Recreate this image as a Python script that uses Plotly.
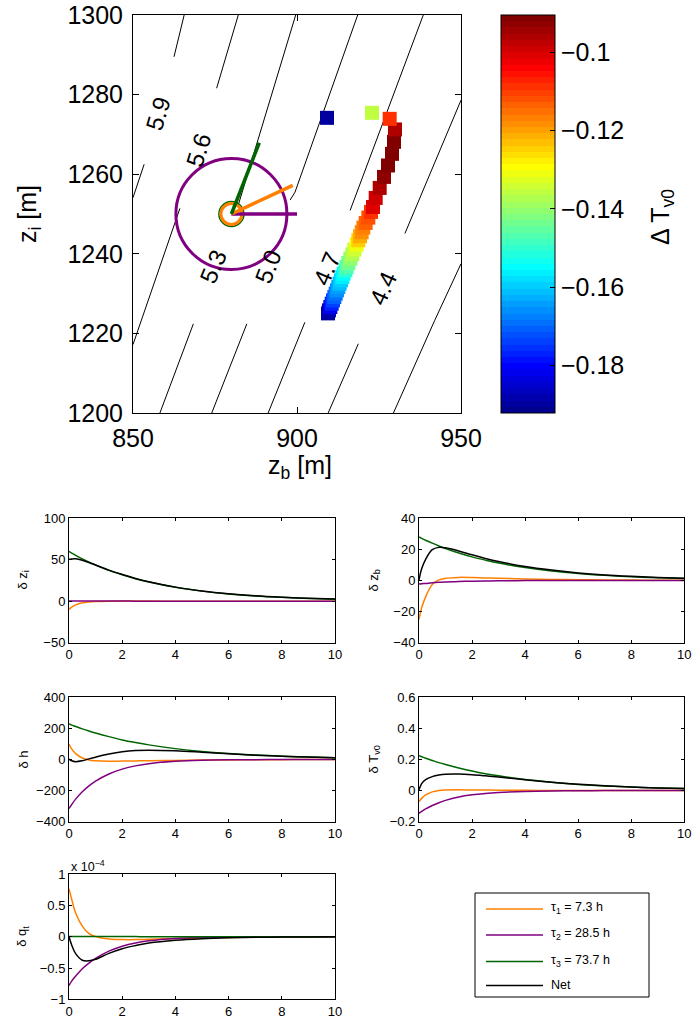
import plotly.graph_objects as go

W, H = 693, 1022

# ====================== DATA ======================
# --- top panel: background contour lines (z_b [m], z_i [m]); None = inline-label gap
cont_zb = [
    [865.6, 862.5, None, 853.4, 850.0],
    [882.1, 875.5, None, 864.3, 858.9, 850.0],
    [899.6, 891.8, 887.7, 882.0, None, 868.4, 858.2],
    [918.5, 909.0, 899.4, 897.9, None, 884.7, 874.0],
    [938.5, 927.3, 916.2, None, 902.4, 899.4, 891.2],
    [950.0, 935.5, 932.9, None, 918.7, 909.5],
    [950.0, 942.0, 929.4],
]
cont_zi = [
    [1300, 1289.5, None, 1262.5, 1254.1],
    [1300, 1281.6, None, 1251.4, 1238.4, 1217.2],
    [1300, 1278.6, 1267.7, 1252.0, None, 1222.4, 1200],
    [1300, 1277.8, 1255.5, 1253.5, None, 1222.4, 1200],
    [1300, 1275.3, 1250.9, None, 1222.8, 1216.6, 1200],
    [1278.6, 1250.6, 1245.1, None, 1217.4, 1200],
    [1237.5, 1223.3, 1200],
]
clab_text = ["5.9", "5.6", "5.3", "5.0", "4.7", "4.4"]
clab_zb = [857.6, 869.9, 874.5, 891.3, 909.1, 926.3]
clab_zi = [1275.3, 1266.0, 1236.7, 1236.7, 1236.3, 1231.2]

# trajectory squares coloured by Delta T_v0
traj_zb = [909.45, 909.76, 910.16, 910.57, 910.98, 911.38, 911.79, 912.20, 912.60, 913.01,
           913.41, 913.82, 914.23, 914.74, 915.14, 915.65, 916.26, 916.87, 917.48, 918.19,
           918.70, 919.21, 919.72, 920.22, 920.93, 921.75, 922.56, 923.17, 923.99, 925.21,
           926.52, 927.74, 928.96, 929.57, 929.88, 928.26, 922.87, 909.15]
traj_zi = [1225.03, 1225.79, 1226.62, 1227.46, 1228.30, 1229.14, 1229.98, 1230.82, 1231.66, 1232.50,
           1233.33, 1234.17, 1235.01, 1235.85, 1236.69, 1237.69, 1238.78, 1239.87, 1241.05, 1242.31,
           1243.40, 1244.40, 1245.41, 1246.58, 1247.76, 1249.10, 1250.52, 1251.77, 1254.04, 1256.55,
           1259.32, 1262.19, 1265.11, 1268.13, 1271.25, 1273.91, 1275.42, 1274.16]
traj_dT = [-0.1904, -0.1887, -0.1824, -0.1777, -0.1745, -0.1712, -0.1688, -0.1664, -0.1640, -0.1617,
           -0.1593, -0.1569, -0.1545, -0.1506, -0.1474, -0.1442, -0.1410, -0.1377, -0.1346, -0.1305,
           -0.1251, -0.1219, -0.1187, -0.1163, -0.1140, -0.1115, -0.1092, -0.1012, -0.0989, -0.0957,
           -0.0924, -0.0908, -0.0900, -0.0900, -0.0964, -0.1086, -0.1362, -0.1904]
dT_min, dT_max = -0.1922, -0.0904

# eigen-mode sticks (tau1, tau2, tau3) from the base state
base_zb, base_zi = 880.0, 1250.0
stick_zb = [898.7, 900.0, 888.5]
stick_zi = [1257.2, 1250.0, 1267.9]

# --- lower panels: perturbations vs time
t = [0, 0.1, 0.25, 0.5, 0.75, 1, 1.5, 2, 2.5, 3, 4, 5, 6, 7, 8, 9, 10]
mode_names = ["τ<sub>1</sub> = 7.3 h", "τ<sub>2</sub> = 28.5 h", "τ<sub>3</sub> = 73.7 h", "Net"]

zi_m1 = [-10, -7.2, -4.4, -1.9, -0.8, -0.3, 0.1, 0.2, 0.2, 0.2, 0.1, 0.1, 0.1, 0, 0, 0, 0]
zi_m2 = [0.3, 0.3, 0.3, 0.3, 0.3, 0.3, 0.2, 0.2, 0.1, 0.1, 0.1, 0, 0, 0, 0, 0, 0]
zi_m3 = [60, 58.1, 55.4, 51.1, 47.2, 43.6, 37.2, 31.9, 27.2, 23.2, 16.8, 12.2, 8.8, 6.4, 4.7, 3.4, 2.5]
zi_net = [50.5, 51.0, 51.2, 49.5, 46.7, 43.6, 37.5, 32.3, 27.5, 23.5, 17.0, 12.3, 8.9, 6.5, 4.8, 3.5, 2.6]

zb_m1 = [-25, -17.5, -10.5, -2.5, 0.4, 1.4, 2.0, 1.9, 1.6, 1.4, 1.0, 0.7, 0.5, 0.35, 0.25, 0.15, 0.1]
zb_m2 = [-2.3, -2.1, -1.9, -1.5, -1.2, -1.0, -0.65, -0.43, -0.28, -0.18, -0.08, -0.03, 0, 0, 0, 0, 0]
zb_m3 = [28, 27.1, 25.9, 24.0, 22.2, 20.6, 17.7, 15.2, 13.1, 11.2, 8.3, 6.1, 4.5, 3.3, 2.4, 1.8, 1.3]
zb_net = [0.4, 7.5, 13.6, 19.8, 21.3, 21.0, 19.0, 16.5, 14.2, 12.2, 9.0, 6.7, 4.9, 3.6, 2.7, 2.0, 1.5]

h_m1 = [100, 68, 38, 10, -3, -8, -11, -10, -9, -8, -6, -4, -2.5, -1.6, -1, -0.6, -0.4]
h_m2 = [-315, -290, -255, -208, -170, -139, -93, -62, -41, -27, -12, -5, -2.2, -1, -0.4, -0.2, -0.1]
h_m3 = [228, 221, 212, 197, 183, 170, 147, 126, 109, 94, 70, 52, 39, 29, 21.6, 16, 12]
h_net = [3, -8, -14, -8, 4, 15, 35, 50, 58, 60, 56, 47, 37, 28, 21, 15.5, 11.5]

T_m1 = [-0.071, -0.05, -0.028, -0.008, 0.001, 0.004, 0.005, 0.004, 0.004, 0.003, 0.002, 0.001, 0.001, 0, 0, 0, 0]
T_m2 = [-0.146, -0.134, -0.118, -0.096, -0.078, -0.063, -0.041, -0.027, -0.018, -0.012, -0.005, -0.002, -0.001, 0, 0, 0, 0]
T_m3 = [0.224, 0.218, 0.208, 0.194, 0.18, 0.168, 0.146, 0.126, 0.109, 0.095, 0.071, 0.054, 0.040, 0.030, 0.023, 0.017, 0.013]
T_net = [0.005, 0.045, 0.07, 0.09, 0.1, 0.105, 0.106, 0.102, 0.095, 0.087, 0.07, 0.054, 0.041, 0.031, 0.023, 0.017, 0.013]

# delta q_t in units of 1e-4
q_m1 = [0.77, 0.6, 0.38, 0.17, 0.05, 0.005, -0.035, -0.045, -0.045, -0.04, -0.028, -0.018, -0.011, -0.007, -0.004, -0.002, -0.001]
q_m2 = [-0.78, -0.71, -0.63, -0.51, -0.42, -0.345, -0.23, -0.15, -0.098, -0.065, -0.028, -0.012, -0.005, -0.002, -0.001, 0, 0]
q_m3 = [0.004, 0.004, 0.004, 0.004, 0.004, 0.004, 0.003, 0.003, 0.003, 0.002, 0.002, 0.001, 0.001, 0.001, 0, 0, 0]
q_net = [0, -0.13, -0.27, -0.375, -0.385, -0.36, -0.265, -0.19, -0.14, -0.10, -0.055, -0.03, -0.016, -0.009, -0.005, -0.002, -0.001]

panels = [
    ("δ z<sub>i</sub>", [zi_m1, zi_m2, zi_m3, zi_net], [-50, 100], [-50, 0, 50, 100]),
    ("δ z<sub>b</sub>", [zb_m1, zb_m2, zb_m3, zb_net], [-40, 40], [-40, -20, 0, 20, 40]),
    ("δ h", [h_m1, h_m2, h_m3, h_net], [-400, 400], [-400, -200, 0, 200, 400]),
    ("δ T<sub>v0</sub>", [T_m1, T_m2, T_m3, T_net], [-0.2, 0.6], [-0.2, 0, 0.2, 0.4, 0.6]),
    ("δ q<sub>t</sub>", [q_m1, q_m2, q_m3, q_net], [-1, 1], [-1, -0.5, 0, 0.5, 1]),
]

# ====================== STYLE / LAYOUT ======================
ORANGE, PURPLE, GREEN, BLACK = "rgb(255,128,0)", "rgb(128,0,128)", "rgb(0,100,0)", "black"
mode_colors = [ORANGE, PURPLE, GREEN, BLACK]
FONT = "Liberation Sans, Arial, Helvetica, sans-serif"


def jet(x):
    c = lambda v: max(0.0, min(1.0, v))
    r, g, b = c(1.5 - abs(4 * x - 3)), c(1.5 - abs(4 * x - 2)), c(1.5 - abs(4 * x - 1))
    return "rgb(%d,%d,%d)" % (round(255 * r), round(255 * g), round(255 * b))


jet64 = []
for k in range(64):
    col = jet((k + 1) / 64)
    jet64.append([k / 64, col])
    jet64.append([(k + 1) / 64, col])


def dx(a, b):
    return [a / W, b / W]


def dy(top, bottom):
    return [1 - bottom / H, 1 - top / H]


def paper_text(xp, yp, text, size, angle=0, xanchor="center", yanchor="middle"):
    return dict(x=xp / W, y=1 - yp / H, xref="paper", yref="paper", text=text, showarrow=False,
                textangle=angle, xanchor=xanchor, yanchor=yanchor,
                font=dict(size=size, family=FONT, color="black"))


fig = go.Figure()

# ---- top panel
for xs, ys in zip(cont_zb, cont_zi):
    fig.add_trace(go.Scatter(x=xs, y=ys, mode="lines", line=dict(color="black", width=1),
                             connectgaps=False, hoverinfo="skip", xaxis="x", yaxis="y"))

# circles at base state
fig.add_trace(go.Scatter(x=[base_zb], y=[base_zi], mode="markers", xaxis="x", yaxis="y",
                         marker=dict(symbol="circle-open", size=111, color=PURPLE, line=dict(width=3, color=PURPLE))))
fig.add_trace(go.Scatter(x=[base_zb], y=[base_zi], mode="markers", xaxis="x", yaxis="y",
                         marker=dict(symbol="circle-open", size=25, color=GREEN, line=dict(width=1.5, color=GREEN))))
fig.add_trace(go.Scatter(x=[base_zb], y=[base_zi], mode="markers", xaxis="x", yaxis="y",
                         marker=dict(symbol="circle-open", size=21, color=ORANGE, line=dict(width=3, color=ORANGE))))
for ex, ey, col in zip([stick_zb[1], stick_zb[0], stick_zb[2]], [stick_zi[1], stick_zi[0], stick_zi[2]],
                       [PURPLE, ORANGE, GREEN]):
    fig.add_trace(go.Scatter(x=[base_zb, ex], y=[base_zi, ey], mode="lines", xaxis="x", yaxis="y",
                             line=dict(color=col, width=3.5)))

# trajectory squares
fig.add_trace(go.Scatter(
    x=traj_zb, y=traj_zi, mode="markers", xaxis="x", yaxis="y",
    marker=dict(symbol="square", size=14, color=traj_dT, colorscale=jet64, cmin=dT_min, cmax=dT_max,
                line=dict(width=0),
                colorbar=dict(x=501 / W, xanchor="left", y=1 - 15 / H, yanchor="top",
                              len=(413 - 15) / H, lenmode="fraction", thickness=54, thicknessmode="pixels",
                              xpad=0, ypad=0, outlinewidth=1, outlinecolor="black",
                              tickvals=[-0.18, -0.16, -0.14, -0.12, -0.1],
                              ticktext=["−0.18", "−0.16", "−0.14", "−0.12", "−0.1"],
                              ticks="inside", ticklen=5, tickcolor="black",
                              tickfont=dict(size=25, family=FONT, color="black"))),
))

angles = [-74, -73, -67, -69, -67, -66]
annotations = []
for txt, x, y, a in zip(clab_text, clab_zb, clab_zi, angles):
    annotations.append(dict(x=x, y=y, xref="x", yref="y", text=txt, showarrow=False, textangle=a,
                            xanchor="center", yanchor="middle",
                            font=dict(size=24, family=FONT, color="black")))

# ---- lower panels
pos = [  # (x-left, x-right, y-top, y-bottom) in px
    (69, 335, 518.3, 642.7), (419, 684.3, 518.3, 642.7),
    (69, 335, 697.3, 821.7), (419, 684.3, 697.3, 821.7),
    (69, 335, 874.3, 999.3),
]
axis_common = dict(showline=True, linecolor="black", linewidth=1, mirror="ticks", ticks="inside",
                   ticklen=3, tickcolor="black", showgrid=False, zeroline=False, automargin=False,
                   tickfont=dict(size=13, family=FONT, color="black"))
layout_axes = {}
for i, ((label, series, yr, yt), (xl, xr, yt_px, yb_px)) in enumerate(zip(panels, pos)):
    n = i + 2
    xa, ya = "x%d" % n, "y%d" % n
    for s, col in zip(series, mode_colors):
        fig.add_trace(go.Scatter(x=t, y=s, mode="lines", line=dict(color=col, width=1.5, shape="spline"),
                                 xaxis=xa, yaxis=ya))
    layout_axes["xaxis%d" % n] = dict(domain=dx(xl, xr), range=[0, 10], tickvals=[0, 2, 4, 6, 8, 10],
                                      anchor=ya, **axis_common)
    layout_axes["yaxis%d" % n] = dict(domain=dy(yt_px, yb_px), range=yr, tickvals=yt, anchor=xa,
                                      **axis_common)
    lab_x = 23 if xl < 200 else 374
    annotations.append(paper_text(lab_x, (yt_px + yb_px) / 2, label, 13, angle=-90))

annotations.append(paper_text(69, 866, "x 10<sup>−4</sup>", 12.5, xanchor="left"))

# top-panel axis titles and colorbar title
annotations.append(paper_text(300, 467, "z<sub>b</sub> [m]", 25))
annotations.append(paper_text(29, 214, "z<sub>i</sub> [m]", 25, angle=-90))
annotations.append(paper_text(662, 217, "Δ T<sub>v0</sub>", 25, angle=-90))

# manual legend
shapes = [dict(type="rect", xref="paper", yref="paper", x0=475 / W, x1=649 / W, y0=1 - 997 / H,
               y1=1 - 893 / H, line=dict(color="black", width=1), fillcolor="white")]
leg_y = [909, 935, 961.5, 985.5]
for name, col, ly in zip(mode_names, mode_colors, leg_y):
    shapes.append(dict(type="line", xref="paper", yref="paper", x0=486 / W, x1=543 / W,
                       y0=1 - ly / H, y1=1 - ly / H, line=dict(color=col, width=1.5)))
    annotations.append(paper_text(549, ly - 1, name, 12.5, xanchor="left"))

top_axis = dict(showline=True, linecolor="black", linewidth=1, mirror="ticks", ticks="inside",
                ticklen=6, tickcolor="black", showgrid=False, zeroline=False, automargin=False,
                tickfont=dict(size=25, family=FONT, color="black"))
fig.update_layout(
    template="none",
    width=W, height=H, margin=dict(l=0, r=0, t=0, b=0, pad=0), showlegend=False,
    paper_bgcolor="white", plot_bgcolor="white", font=dict(family=FONT, color="black"),
    xaxis=dict(domain=dx(133, 461), range=[850, 950], tickvals=[850, 900, 950], anchor="y",
               ticklabelstandoff=3, **top_axis),
    yaxis=dict(domain=dy(15, 413), range=[1200, 1300], tickvals=[1200, 1220, 1240, 1260, 1280, 1300],
               anchor="x", ticklabelstandoff=4, **top_axis),
    annotations=annotations, shapes=shapes,
    **layout_axes,
)

fig.write_html("out.html")
